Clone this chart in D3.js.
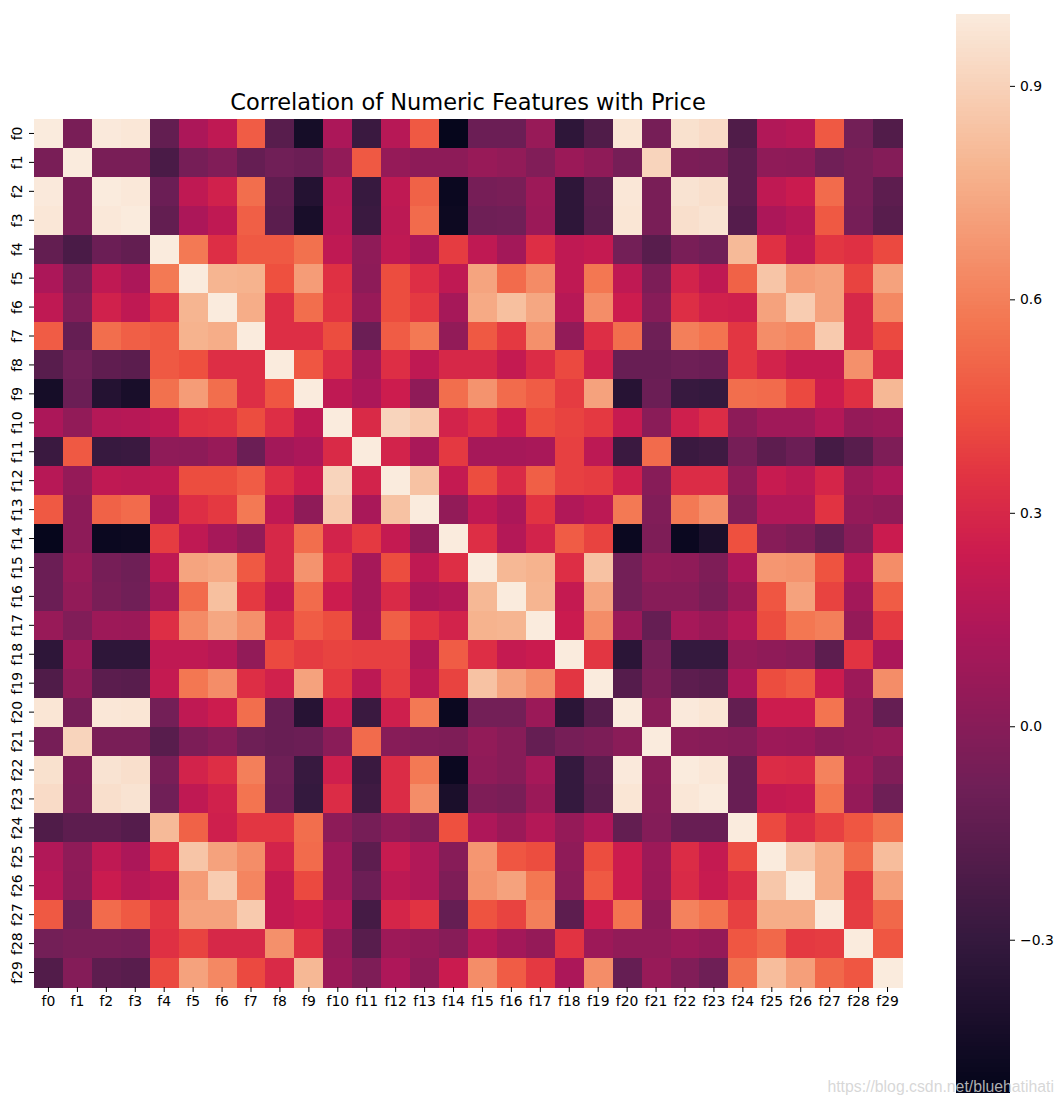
<!DOCTYPE html>
<html><head><meta charset="utf-8">
<script src="https://cdn.jsdelivr.net/npm/d3@7"></script>
<style>html,body{margin:0;padding:0;background:#fff}svg{display:block}text{font-family:"DejaVu Sans",sans-serif}</style>
</head><body><div id="chart"></div>
<script>
const features = d3.range(30).map(i => "f" + i);
const chartTitle = "Correlation of Numeric Features with Price";
const colorTicks = [-0.3, 0, 0.3, 0.6, 0.9];
const watermark = "https://blog.csdn.net/bluehatihati";
const valueMin = -0.514, valueMax = 1.001;
const rocketPos = [0, 1/7, 2/7, 3/7, 0.5, 4/7, 0.63, 5/7, 6/7, 1];
const rocketStops = ["#03051a","#35193e","#701f57","#ad1759","#cb1b4f","#e13342","#ee503f","#f37651","#f6b48f","#faebdd"];
// Upper triangle of the symmetric correlation matrix: each row starts at its diagonal.
const upper = [
[1,-.05,.995,.985,-.13,.13,.2,.48,-.17,-.43,.13,-.28,.17,.47,-.5,-.1,-.1,.06,-.33,-.2,.98,-.06,.96,.94,-.2,.15,.17,.47,-.07,-.19],
[1,-.05,-.05,-.22,-.06,-.02,-.12,-.08,-.1,.04,.47,.05,.02,.02,.06,.04,-.02,.07,.03,-.06,.91,-.04,-.05,-.15,.03,.02,-.08,-.05,-.01],
[1,.99,-.1,.2,.27,.54,-.14,-.37,.16,-.29,.2,.5,-.48,-.06,-.05,.08,-.33,-.16,.985,-.05,.97,.955,-.15,.2,.24,.53,-.05,-.15],
[1,-.13,.13,.2,.49,-.16,-.42,.17,-.28,.19,.53,-.47,-.09,-.08,.07,-.33,-.17,.98,-.05,.955,.97,-.18,.13,.17,.47,-.06,-.17],
[1,.58,.33,.47,.47,.55,.2,.03,.2,.13,.38,.2,.1,.33,.2,.22,-.07,-.17,-.05,-.08,.81,.34,.21,.36,.34,.42],
[1,.79,.78,.44,.7,.34,.02,.43,.33,.2,.73,.53,.64,.2,.57,.2,-.04,.28,.2,.5,.85,.7,.72,.4,.72],
[1,.76,.33,.54,.35,.06,.43,.37,.11,.75,.83,.74,.17,.65,.25,0,.33,.27,.26,.72,.88,.72,.3,.63],
[1,.33,.33,.43,-.1,.48,.58,.04,.47,.37,.66,.04,.33,.54,-.09,.6,.56,.36,.65,.62,.87,.3,.42],
[1,.46,.33,.1,.33,.2,.3,.3,.22,.32,.42,.27,-.11,-.11,-.09,-.1,.36,.28,.22,.22,.66,.31],
[1,.2,.13,.25,.03,.54,.67,.53,.48,.38,.72,-.36,-.1,-.29,-.3,.54,.53,.42,.25,.34,.8],
[1,.31,.91,.87,.28,.34,.25,.43,.4,.37,.23,.01,.26,.32,.02,.09,.09,.16,.05,.07],
[1,.28,.12,.37,.11,.11,.12,.39,.19,-.28,.53,-.28,-.26,-.06,-.15,-.1,-.24,-.17,-.03],
[1,.84,.22,.43,.31,.49,.39,.38,.26,0,.32,.32,.03,.23,.19,.29,.08,.14],
[1,.04,.2,.13,.35,.15,.19,.58,-.02,.58,.65,-.02,.15,.15,.35,.05,.03],
[1,.33,.16,.28,.48,.4,-.48,-.03,-.48,-.41,.44,0,-.03,-.12,0,.24],
[1,.8,.78,.33,.84,-.07,.04,.03,-.03,.14,.68,.67,.45,.17,.65],
[1,.79,.22,.73,-.07,0,0,-.05,.07,.46,.72,.4,.1,.48],
[1,.24,.65,.07,-.12,.11,.07,.16,.43,.57,.6,.05,.37],
[1,.36,-.34,-.06,-.3,-.3,.05,.03,.01,-.15,.35,.13],
[1,-.18,-.04,-.15,-.17,.14,.43,.47,.25,.08,.65],
[1,.01,.995,.98,-.13,.25,.25,.56,.04,-.12],
[1,.01,0,-.01,.08,.07,.02,.04,.06],
[1,.985,-.11,.32,.31,.61,.08,-.02],
[1,-.11,.22,.23,.56,.05,-.09],
[1,.42,.32,.39,.46,.55],
[1,.86,.76,.52,.82],
[1,.76,.37,.71],
[1,.38,.52],
[1,.46],
[1]
];
const valueAt = (r, c) => r <= c ? upper[r][c - r] : upper[c][r - c];
const cells = d3.cross(d3.range(30), d3.range(30)).map(([r, c]) => ({r, c, v: valueAt(r, c)}));

const width = 1063, height = 1105;
const svg = d3.select("#chart").append("svg").attr("width", width).attr("height", height);

const plot = {left: 34, right: 902, top: 119, bottom: 987};
const x = d3.scaleBand().domain(features).range([plot.left, plot.right]).padding(0);
const y = d3.scaleBand().domain(features).range([plot.top, plot.bottom]).padding(0);
const color = d3.scaleLinear()
  .domain(rocketPos.map(t => valueMin + (valueMax - valueMin) * t))
  .range(rocketStops).interpolate(d3.interpolateRgb).clamp(true);

svg.append("g").attr("shape-rendering", "crispEdges").selectAll("rect").data(cells).join("rect")
  .attr("x", d => x(features[d.c])).attr("y", d => y(features[d.r]))
  .attr("width", x.bandwidth() + 0.5).attr("height", y.bandwidth() + 0.5)
  .attr("fill", d => color(d.v));

const axisFont = 13.9;
const gx = svg.append("g").attr("transform", `translate(0,${plot.bottom})`).call(d3.axisBottom(x).tickSize(5).tickPadding(4));
gx.select(".domain").remove();
gx.selectAll("text").attr("font-size", axisFont).attr("font-family", "DejaVu Sans").attr("fill", "#000");
gx.selectAll("line").attr("stroke", "#000");

const gy = svg.append("g").attr("transform", `translate(${plot.left},0)`).call(d3.axisLeft(y).tickSize(5).tickPadding(5));
gy.select(".domain").remove();
gy.selectAll("text").attr("font-size", axisFont).attr("font-family", "DejaVu Sans").attr("fill", "#000")
  .attr("dy", null).attr("text-anchor", "middle").attr("x", null)
  .attr("transform", "translate(-12,0) rotate(-90)");
gy.selectAll("line").attr("stroke", "#000");

svg.append("text").attr("x", (plot.left + plot.right) / 2).attr("y", 110)
  .attr("text-anchor", "middle").attr("font-size", 22.5).attr("fill", "#000").text(chartTitle);

// colour bar
const bar = {left: 956, right: 1010, top: 14, bottom: 1092};
const cy = d3.scaleLinear().domain([valueMin, valueMax]).range([bar.bottom, bar.top]);
const levels = d3.range(256).map(i => valueMin + (valueMax - valueMin) * (i + 0.5) / 256);
const step = (valueMax - valueMin) / 256;
svg.append("g").attr("shape-rendering", "crispEdges").selectAll("rect").data(levels).join("rect")
  .attr("x", bar.left).attr("width", bar.right - bar.left)
  .attr("y", d => cy(d + step / 2)).attr("height", d => cy(d - step / 2) - cy(d + step / 2) + 0.6)
  .attr("fill", d => color(d));
const gc = svg.append("g").attr("transform", `translate(${bar.right},0)`)
  .call(d3.axisRight(cy).tickValues(colorTicks).tickFormat(d3.format(".1f")).tickSize(5).tickPadding(5));
gc.select(".domain").remove();
gc.selectAll("text").attr("font-size", axisFont).attr("font-family", "DejaVu Sans").attr("fill", "#000");
gc.selectAll("line").attr("stroke", "#000");

svg.append("text").attr("x", 1054).attr("y", 1092).attr("text-anchor", "end")
  .style("font-family", "'Liberation Sans', Arial, sans-serif").attr("font-size", 15.8)
  .attr("fill", "#d0d0d0").attr("fill-opacity", 0.85).text(watermark);
</script></body></html>
